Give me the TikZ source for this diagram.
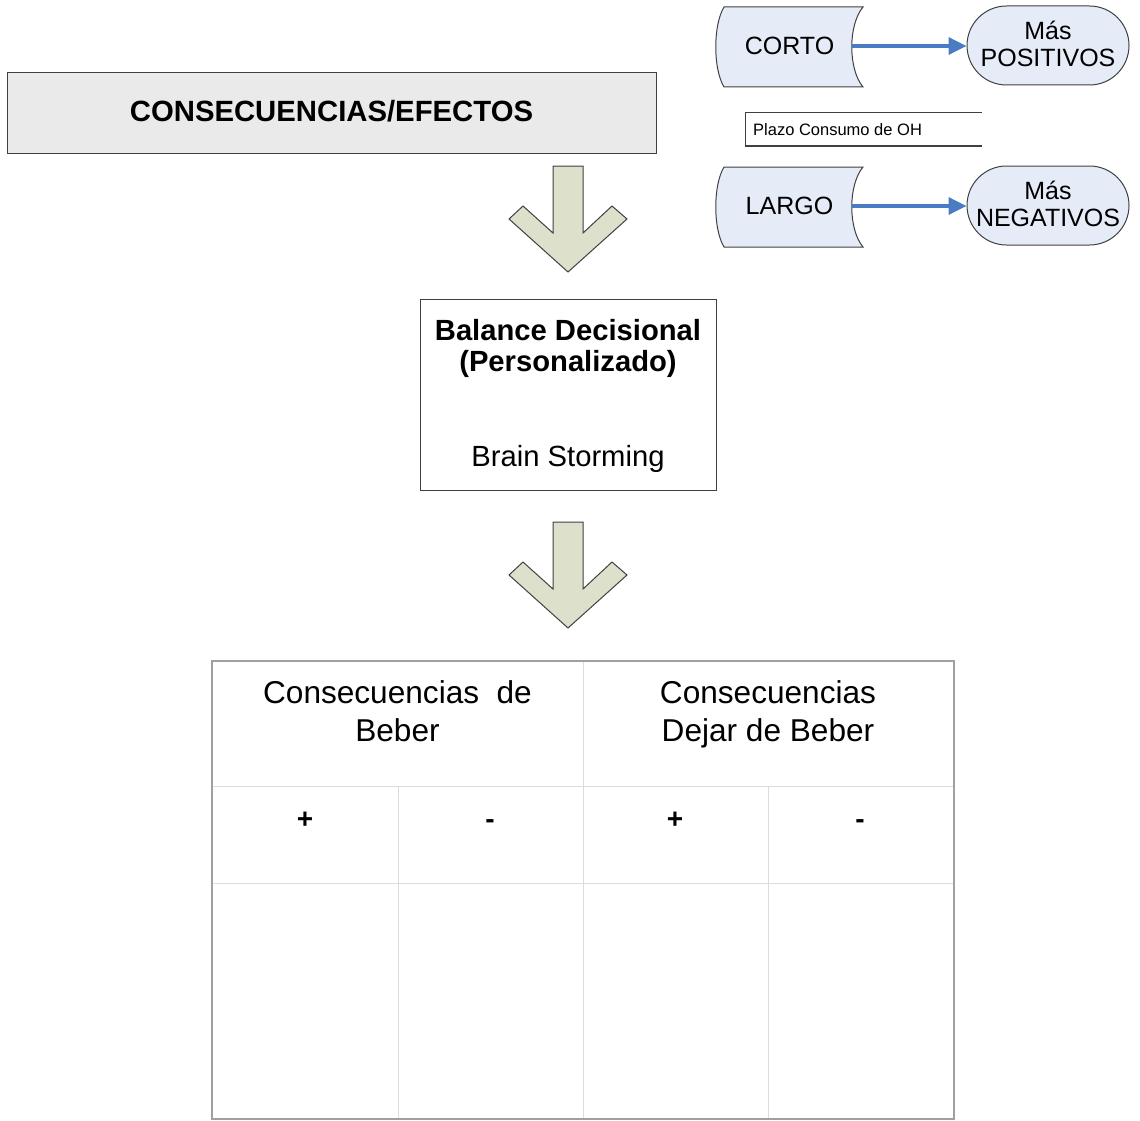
\documentclass[tikz,border=0pt]{standalone}
\usepackage{fontspec}
\setmainfont{Liberation Sans}
\usetikzlibrary{shapes.misc,arrows.meta}

\definecolor{edge}{HTML}{404040}
\definecolor{titlefill}{HTML}{EAEAEA}
\definecolor{chevronfill}{HTML}{DDE1CB}
\definecolor{termfill}{HTML}{E6ECF7}
\definecolor{linkblue}{HTML}{4A7CC4}
\definecolor{gridout}{HTML}{A0A0A0}
\definecolor{gridin}{HTML}{DCDCDC}

\tikzset{
  titlebox/.style={draw=edge, line width=1pt, fill=titlefill, inner sep=0pt},
  titletext/.style={anchor=base, inner sep=0pt, font=\fontsize{29.3}{32}\selectfont\bfseries},
  plainbox/.style={draw=edge, line width=1pt, fill=white, inner sep=0pt},
  chevron/.style={draw=edge, line width=1pt, fill=chevronfill, line join=miter},
  storeshape/.style={draw=edge, line width=1pt, fill=termfill},
  termlabel/.style={inner sep=0pt, minimum height=17pt, font=\fontsize{25}{27}\selectfont},
  stadium/.style={rounded rectangle, draw=edge, line width=1pt, fill=termfill,
    minimum width=162pt, minimum height=79pt, inner sep=0pt},
  stadiumtext/.style={align=center, inner sep=0pt, font=\fontsize{25}{26.5}\selectfont},
  linkarrow/.style={draw=linkblue, line width=3.5pt,
    -{Triangle[length=18pt,width=17pt]}},
  headtext/.style={anchor=base, align=center, inner sep=0pt,
    font=\fontsize{31.6}{38}\selectfont},
  signtext/.style={anchor=base, inner sep=0pt, font=\fontsize{28}{30}\selectfont\bfseries},
  boldline/.style={anchor=base, inner sep=0pt, font=\fontsize{29.2}{31}\selectfont\bfseries},
  normline/.style={anchor=base, inner sep=0pt, font=\fontsize{29.2}{31}\selectfont},
}

\begin{document}
\begin{tikzpicture}[x=1pt, y=-1pt]
\useasboundingbox (0,0) rectangle (1140,1121);

% heading bar
\node[titlebox, minimum width=649pt, minimum height=80pt] (efectos) at (331.5,113) {};
\node[titletext] (efectosText) at (331.5,121.5) {CONSECUENCIAS/EFECTOS};

% chevron arrows
\foreach \dy in {0,356}{
  \begin{scope}[yshift=-\dy pt]
    \draw[chevron] (553,166) -- (583,166) -- (583,233) -- (612,206) -- (627,219)
      -- (568,272) -- (509,219) -- (523,206) -- (553,233) -- cycle;
  \end{scope}
}

% decisional balance box
\node[plainbox, minimum width=296pt, minimum height=191pt] (balance) at (568,394.5) {};
\node[boldline] (balA) at (568,340.5) {Balance Decisional};
\node[boldline] (balB) at (568,371.5) {(Personalizado)};
\node[normline] (brain) at (568,466.5) {Brain Storming};

% short / long term shapes
\foreach \dy in {0,160}{
  \begin{scope}[yshift=-\dy pt]
    \draw[storeshape] (724,7) -- (863,7) .. controls (848,25) and (848,69) .. (863,87)
      -- (724,87) .. controls (713,69) and (713,25) .. (724,7) -- cycle;
  \end{scope}
}
\node[termlabel, minimum width=124pt] (corto) at (789.5,46) {CORTO};
\node[termlabel, minimum width=124pt] (largo) at (789.5,206) {LARGO};

\node[stadium] (pos) at (1048,45.5) {};
\node[stadiumtext] (posText) at (1048,44) {Más\\POSITIVOS};
\node[stadium] (neg) at (1048,205.5) {};
\node[stadiumtext] (negText) at (1048,204) {Más\\NEGATIVOS};

\draw[linkarrow] (corto.east) -- (corto.east -| pos.west);
\draw[linkarrow] (largo.east) -- (largo.east -| neg.west);

% term caption
\draw[edge, line width=1pt] (982,113) -- (745,113) -- (745,146) -- (982,146);
\node[anchor=base west, inner sep=0pt, font=\fontsize{16.5}{18}\selectfont] (plazo) at (753,135.5) {Plazo Consumo de OH};

% consequences grid
\draw[gridin, line width=1pt] (212,786) -- (954,786);
\draw[gridin, line width=1pt] (212,883) -- (954,883);
\draw[gridin, line width=1pt] (583,661) -- (583,1119);
\draw[gridin, line width=1pt] (398,786) -- (398,1119);
\draw[gridin, line width=1pt] (768,786) -- (768,1119);
\draw[gridout, line width=2pt] (212,661) rectangle (954,1119);

\node[headtext] (hBeber) at (397.5,741) {Consecuencias\ \ de\\Beber};
\node[headtext] (hDejar) at (768,741) {Consecuencias\\Dejar de Beber};

\node[signtext] (s1) at (305,828) {+};
\node[signtext] (s2) at (490,828) {-};
\node[signtext] (s3) at (675,828) {+};
\node[signtext] (s4) at (860,828) {-};
\end{tikzpicture}
\end{document}
